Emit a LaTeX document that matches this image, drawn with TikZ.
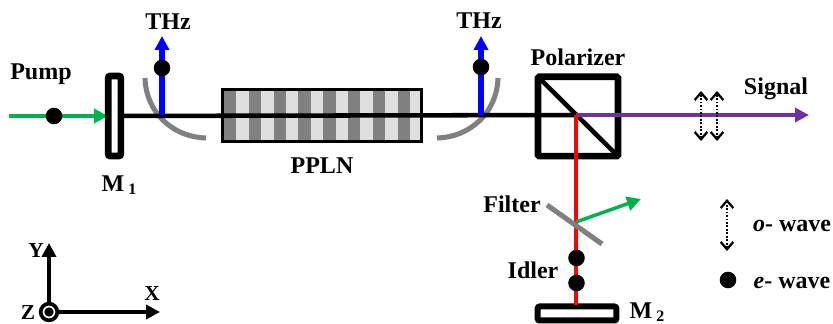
\documentclass[tikz,border=0pt]{standalone}
\usepackage{fontspec}
\setmainfont{Liberation Serif}
\usetikzlibrary{arrows.meta}
\definecolor{PumpGreen}{RGB}{0,176,80}
\definecolor{SignalPurple}{RGB}{112,48,160}
\definecolor{ArcGray}{RGB}{128,128,128}
\definecolor{StripeLight}{RGB}{223,223,223}
\newcommand{\lowsub}[1]{\raisebox{-0.12em}{\fontsize{12pt}{13pt}\selectfont #1}}
\tikzset{
    lbl/.style={font=\fontsize{18pt}{20pt}\bfseries\selectfont, inner sep=0pt},
    axlbl/.style={font=\fontsize{16pt}{18pt}\bfseries\selectfont, inner sep=0pt},
    dotmark/.style={circle, fill=black, minimum size=12.4pt, inner sep=0pt},
    beam/.style={line width=#1, -{Triangle[length=10.5pt, width=10.5pt]}},
    owave/.style={line width=2.2pt, dash pattern=on 1.4pt off 1.2pt, {Straight Barb[length=5.5pt, width=9.5pt, line width=1.7pt]}-{Straight Barb[length=5.5pt, width=9.5pt, line width=1.7pt]}},
    mirror/.style={draw=black, fill=white, rounded corners=1.5pt}
}
\begin{document}
\begin{tikzpicture}[x=0.75pt, y=-0.75pt]
    \useasboundingbox (0,0) rectangle (833,324);

    % Points on the beam path
    \coordinate (pumpstart) at (9,116);
    \coordinate (pumptip) at (108,116);
    \coordinate (lineend) at (578,115);
    \coordinate (split) at (576,115);
    \coordinate (signaltip) at (809,115);
    \coordinate (thzleft) at (162,115);
    \coordinate (thzlefttip) at (162,36);
    \coordinate (thzright) at (481,115);
    \coordinate (thzrighttip) at (481,36);
    \coordinate (filterhit) at (576,222);
    \coordinate (filtertip) at (641,199);
    \coordinate (idlerend) at (576,305);

    % Curved mirrors, under the beam
    \draw[ArcGray, line width=3.8pt] (145,78) .. controls (146,112) and (172,137) .. (206,138);
    \draw[ArcGray, line width=3.8pt] (498,78) .. controls (497,112) and (471,137) .. (437,138);

    % PPLN crystal with its stripes
    \foreach \i in {0,2,...,14} {
        \fill[ArcGray] (224+12.4*\i,89) rectangle (236.4+12.4*\i,142);
        \fill[StripeLight] (236.4+12.4*\i,89) rectangle (248.8+12.4*\i,142);
    }
    \node[draw=black, line width=2.4pt, minimum width=149pt, minimum height=39.5pt, inner sep=0pt] (pplnbox) at (322,115.5) {};

    % Main beam
    \draw[black, line width=3.4pt] (pumptip) -- (lineend);

    % Polarizer cube
    \node[draw=black, line width=5pt, outer sep=0pt, rounded corners=1pt, minimum width=60pt, minimum height=59.5pt, inner sep=0pt] (cube) at (578,116.5) {};
    \draw[black, line width=3.4pt] (cube.north west) -- (cube.south east);

    % Pump and mirror M1
    \draw[PumpGreen, beam=2.6pt] (pumpstart) -- (pumptip);
    \node[mirror, line width=5pt, minimum width=9.5pt, minimum height=60pt, inner sep=0pt] (mone) at (114.5,116) {};
    \node[dotmark] (pumpdot) at (54,116) {};

    % THz outputs
    \draw[blue, beam=3.8pt] (thzleft) -- (thzlefttip);
    \draw[blue, beam=3.8pt] (thzright) -- (thzrighttip);
    \node[dotmark] (thzleftdot) at (162,68) {};
    \node[dotmark] (thzrightdot) at (481,67) {};

    % Signal and its polarisation marks
    \draw[SignalPurple, beam=3.2pt] (split) -- (signaltip);
    \coordinate (sigatop) at (701,91);
    \coordinate (sigabot) at (701,141);
    \coordinate (sigbtop) at (717,91);
    \coordinate (sigbbot) at (717,141);
    \draw[owave] (sigabot) -- (sigatop);
    \draw[owave] (sigbbot) -- (sigbtop);

    % Idler branch
    \node[mirror, line width=4.5pt, minimum width=59pt, minimum height=10.5pt, inner sep=0pt] (mtwo) at (577,313.5) {};
    \draw[red, line width=2.8pt] (split) -- (idlerend);
    \coordinate (filtera) at (547,205);
    \coordinate (filterb) at (602,244);
    \draw[ArcGray, line width=3.8pt] (filtera) -- (filterb);
    \draw[PumpGreen, beam=2.6pt] (filterhit) -- (filtertip);
    \node[dotmark] (idlera) at (576.5,258) {};
    \node[dotmark] (idlerb) at (576.5,283) {};

    % Legend
    \coordinate (legtop) at (727,199);
    \coordinate (legbot) at (727,251);
    \draw[owave] (legbot) -- (legtop);
    \node[dotmark] (legdot) at (728,280) {};

    % Axes
    \node[circle, draw=black, line width=2.8pt, minimum size=12.5pt, inner sep=0pt] (origin) at (49,312) {};
    \node[dotmark, minimum size=7pt] (origindot) at (49,312) {};
    \coordinate (ytip) at (49,243);
    \coordinate (xtip) at (160,312);
    \draw[black, beam=2.8pt] (origin) -- (ytip);
    \draw[black, beam=2.8pt] (origin) -- (xtip);

    % Labels
    \node[lbl] (pumplbl) at (41,74) {Pump};
    \node[lbl] (thzleftlbl) at (168,22) {THz};
    \node[lbl] (thzrightlbl) at (479,21) {THz};
    \node[lbl] (ppln) at (322,166) {PPLN};
    \node[lbl] (polar) at (578,57) {Polarizer};
    \node[lbl] (signal) at (776,89) {Signal};
    \node[lbl] (monelbl) at (119,185) {M\,\lowsub{1}};
    \node[lbl] (mtwolbl) at (647,312) {M\,\lowsub{2}};
    \node[lbl] (filter) at (512,204) {Filter};
    \node[lbl] (idler) at (533,270) {Idler};
    \node[lbl] (owavelbl) at (792,226) {\textit{o}- wave};
    \node[lbl] (ewavelbl) at (792,283) {\textit{e}- wave};
    \node[axlbl] (xlbl) at (152,294) {X};
    \node[axlbl] (ylbl) at (36,251) {Y};
    \node[axlbl] (zlbl) at (28,313) {Z};
\end{tikzpicture}
\end{document}
